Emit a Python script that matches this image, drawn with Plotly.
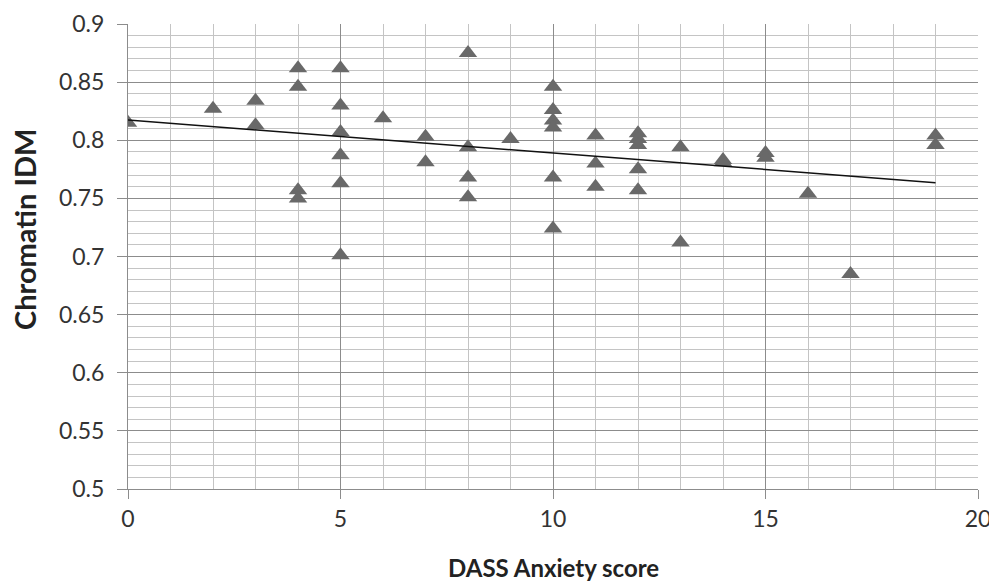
import numpy as np
import plotly.graph_objects as go

# DASS Anxiety score (x) and Chromatin IDM (y)
anxiety = [0, 2, 3, 3, 4, 4, 4, 4, 5, 5, 5, 5, 5, 5, 6, 7, 7, 8, 8, 8, 8, 9,
           10, 10, 10, 10, 10, 10, 11, 11, 11, 12, 12, 12, 12, 12, 13, 13,
           14, 14, 15, 15, 16, 17, 19, 19]
idm = [0.815, 0.827, 0.834, 0.813, 0.862, 0.846, 0.757, 0.750,
       0.862, 0.830, 0.807, 0.787, 0.763, 0.701, 0.819, 0.803, 0.781,
       0.875, 0.794, 0.768, 0.751, 0.801,
       0.846, 0.826, 0.817, 0.811, 0.768, 0.724,
       0.804, 0.780, 0.760,
       0.806, 0.801, 0.796, 0.775, 0.757,
       0.794, 0.712, 0.783, 0.781, 0.789, 0.785, 0.754, 0.685, 0.804, 0.796]

x_title = "DASS Anxiety score"
y_title = "Chromatin IDM"

slope, intercept = np.polyfit(anxiety, idm, 1)
trend_x = [min(anxiety), max(anxiety)]
trend_y = [intercept + slope * v for v in trend_x]

x_ticks = [0, 5, 10, 15, 20]
y_ticks = [0.5, 0.55, 0.6, 0.65, 0.7, 0.75, 0.8, 0.85, 0.9]
y_ticktext = ["0.5", "0.55", "0.6", "0.65", "0.7", "0.75", "0.8", "0.85", "0.9"]

fig = go.Figure()
fig.add_trace(go.Scatter(x=anxiety, y=idm, mode="markers",
                         marker=dict(symbol="triangle-up", size=16, color="#696969"),
                         showlegend=False))
fig.add_trace(go.Scatter(x=trend_x, y=trend_y, mode="lines",
                         line=dict(color="#111111", width=1.5), showlegend=False))

font_family = "Lato, 'Open Sans', sans-serif"
fig.update_layout(
    width=989, height=577,
    margin=dict(l=120, r=19, t=16, b=96, autoexpand=False),
    paper_bgcolor="white", plot_bgcolor="white",
    font=dict(family=font_family, color="#333333"),
)
fig.update_xaxes(
    range=[0, 20], tickvals=x_ticks, ticktext=[str(v) for v in x_ticks],
    tickfont=dict(size=23, color="#333333"),
    showgrid=True, gridcolor="#8c8c8c", gridwidth=1,
    minor=dict(dtick=1, showgrid=True, gridcolor="#c4c4c4", gridwidth=1, ticks=""),
    showline=True, linecolor="#8c8c8c", linewidth=1,
    ticks="outside", ticklen=9, tickcolor="#8c8c8c",
    zeroline=False, automargin=False,
)
fig.update_yaxes(
    range=[0.5, 0.9], tickvals=y_ticks, ticktext=y_ticktext,
    tickfont=dict(size=23, color="#333333"),
    showgrid=True, gridcolor="#8c8c8c", gridwidth=1,
    minor=dict(dtick=0.01, tick0=0.5, showgrid=True, gridcolor="#c4c4c4", gridwidth=1, ticks=""),
    showline=True, linecolor="#8c8c8c", linewidth=1,
    ticks="outside", ticklen=10, tickcolor="#8c8c8c",
    ticklabelstandoff=8,
    zeroline=False, automargin=False,
)
fig.add_annotation(text="<b>" + x_title + "</b>", xref="paper", yref="paper",
                   x=0.5, y=-0.168, showarrow=False, xanchor="center", yanchor="middle",
                   font=dict(size=24, color="#222222"))
fig.add_annotation(text="<b>" + y_title + "</b>", xref="paper", yref="paper",
                   x=-0.1224, y=0.559, showarrow=False, xanchor="center", yanchor="middle",
                   textangle=-90, font=dict(size=29, color="#222222"))
fig.write_html("out.html")
